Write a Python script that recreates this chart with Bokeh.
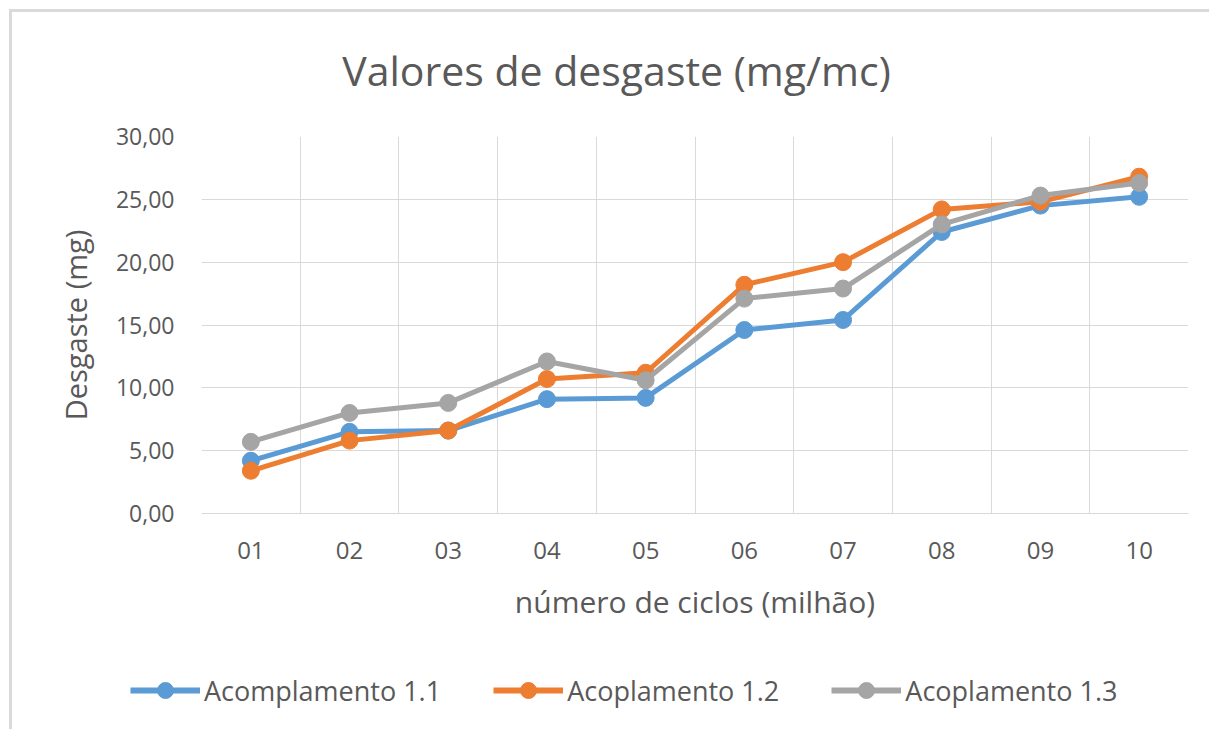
from bokeh.plotting import figure
from bokeh.models import FixedTicker, Legend, LegendItem, ColumnDataSource, Range1d, Label
from bokeh.embed import file_html
from bokeh.resources import INLINE

categories = ["01", "02", "03", "04", "05", "06", "07", "08", "09", "10"]
serie_1_1 = [4.2, 6.5, 6.6, 9.1, 9.2, 14.6, 15.4, 22.4, 24.5, 25.2]
serie_1_2 = [3.4, 5.8, 6.6, 10.7, 11.2, 18.2, 20.0, 24.2, 24.8, 26.8]
serie_1_3 = [5.7, 8.0, 8.8, 12.1, 10.6, 17.1, 17.9, 23.0, 25.3, 26.3]
series_names = ["Acomplamento 1.1", "Acoplamento 1.2", "Acoplamento 1.3"]
colors = ["#5B9BD5", "#ED7D31", "#A5A5A5"]
y_ticks = [0, 5, 10, 15, 20, 25, 30]
y_labels = ["0,00", "5,00", "10,00", "15,00", "20,00", "25,00", "30,00"]
title_text = "Valores de desgaste (mg/mc)"

FONT = "Open Sans"
TXT = "#595959"
GRID = "#d9d9d9"
BORDER = "3px solid #dadada"

xs = list(range(1, len(categories) + 1))
all_series = [serie_1_1, serie_1_2, serie_1_3]

# ---- title strip ----
tf = figure(width=1200, height=110, output_backend="svg", toolbar_location=None,
            x_range=Range1d(0, 1200), y_range=Range1d(0, 110),
            x_axis_location=None, y_axis_location=None,
            min_border_left=0, min_border_right=0, min_border_top=0, min_border_bottom=0)
tf.styles = {"margin-left": "9px", "margin-top": "9px",
             "border-top": BORDER, "border-left": BORDER}
tf.outline_line_color = None
tf.grid.visible = False
tf.border_fill_color = "white"
tf.add_layout(Label(x=604, y=53, x_units="screen", y_units="screen", text=title_text,
                    text_align="center", text_baseline="middle", text_font=FONT,
                    text_font_size="41px", text_color=TXT))

# ---- main chart ----
p = figure(width=1200, height=531, output_backend="svg", toolbar_location=None,
           x_range=Range1d(0.5, len(categories) + 0.5), y_range=Range1d(0, 30),
           min_border_left=189, min_border_right=24, min_border_top=17,
           min_border_bottom=137)
p.styles = {"margin-left": "9px", "border-left": BORDER}
p.outline_line_color = None
p.background_fill_color = "white"
p.border_fill_color = "white"

# x axis
p.xaxis.ticker = FixedTicker(ticks=xs)
p.xaxis.major_label_overrides = {x: c for x, c in zip(xs, categories)}
p.xaxis.major_tick_line_color = None
p.xaxis.minor_tick_line_color = None
p.xaxis.axis_line_color = GRID
p.xaxis.major_label_text_font = FONT
p.xaxis.major_label_text_font_size = "24px"
p.xaxis.major_label_text_color = TXT
p.xaxis.major_label_standoff = 22
p.xaxis.axis_label = "número de ciclos (milhão)"
p.xaxis.axis_label_text_font = FONT
p.xaxis.axis_label_text_font_size = "30px"
p.xaxis.axis_label_text_font_style = "normal"
p.xaxis.axis_label_text_color = TXT
p.xaxis.axis_label_standoff = 19

# y axis
p.yaxis.ticker = FixedTicker(ticks=y_ticks)
p.yaxis.major_label_overrides = {t: l for t, l in zip(y_ticks, y_labels)}
p.yaxis.major_tick_line_color = None
p.yaxis.minor_tick_line_color = None
p.yaxis.axis_line_color = None
p.yaxis.major_label_text_font = FONT
p.yaxis.major_label_text_font_size = "23px"
p.yaxis.major_label_text_color = TXT
p.yaxis.major_label_standoff = 21
p.yaxis.axis_label = "Desgaste (mg)"
p.yaxis.axis_label_text_font = FONT
p.yaxis.axis_label_text_font_size = "29px"
p.yaxis.axis_label_text_font_style = "normal"
p.yaxis.axis_label_text_color = TXT
p.yaxis.axis_label_standoff = 18

# grids
p.xgrid.ticker = FixedTicker(ticks=[x + 0.5 for x in range(0, len(categories) + 1)])
p.xgrid.grid_line_color = GRID
p.ygrid.grid_line_color = GRID

for vals, col in zip(all_series, colors):
    src = ColumnDataSource(dict(x=xs, y=vals))
    p.line("x", "y", source=src, line_color=col, line_width=5)
    p.scatter("x", "y", source=src, size=17, fill_color=col, line_color=col)

# ---- legend strip (separate root so the legend can sit outside the plot area) ----
lf = figure(width=1200, height=79, output_backend="svg", toolbar_location=None,
            x_range=Range1d(1000, 1001), y_range=Range1d(0, 30),
            x_axis_location=None, y_axis_location=None,
            min_border_left=0, min_border_right=0, min_border_top=0, min_border_bottom=0)
lf.styles = {"margin-left": "9px", "border-left": BORDER}
lf.outline_line_color = None
lf.grid.visible = False
lf.border_fill_color = "white"
items = []
for name, vals, col in zip(series_names, all_series, colors):
    src = ColumnDataSource(dict(x=xs, y=vals))
    l = lf.line("x", "y", source=src, line_color=col, line_width=6)
    s = lf.scatter("x", "y", source=src, size=18, fill_color=col, line_color=col)
    items.append(LegendItem(label=name, renderers=[l, s]))

legend = Legend(items=items, orientation="horizontal", location=(118, 19),
                glyph_width=70, glyph_height=40, label_standoff=4, label_width=0,
                spacing=52, padding=0, margin=0, border_line_color=None,
                background_fill_alpha=0, label_text_font=FONT,
                label_text_font_size="27px", label_text_color=TXT)
lf.add_layout(legend, "center")

open("out.html", "w").write(file_html([tf, p, lf], INLINE))
